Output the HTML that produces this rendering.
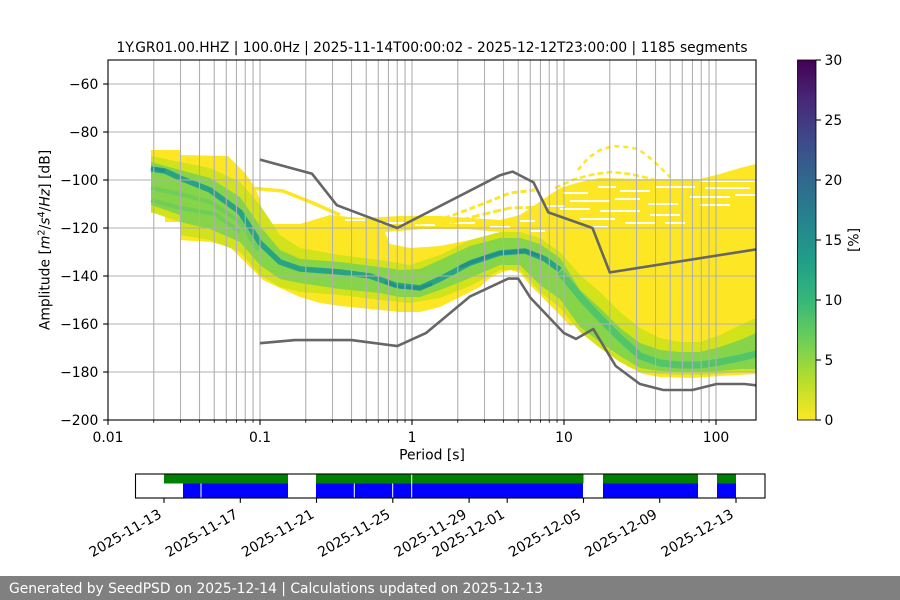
<!DOCTYPE html>
<html>
<head>
<meta charset="utf-8">
<style>
html,body{margin:0;padding:0;background:#fff;}
svg{display:block;}
text{font-family:"DejaVu Sans","Liberation Sans",sans-serif;font-size:13.9px;fill:#000;}
</style>
</head>
<body>
<svg width="900" height="600" viewBox="0 0 900 600" xmlns="http://www.w3.org/2000/svg">
<defs>
  <clipPath id="ax"><rect x="108" y="60" width="648" height="360"/></clipPath>
  <linearGradient id="vir" x1="0" y1="1" x2="0" y2="0">
    <stop offset="0" stop-color="#fde725"/>
    <stop offset="0.111" stop-color="#b5de2b"/>
    <stop offset="0.222" stop-color="#6ece58"/>
    <stop offset="0.333" stop-color="#35b779"/>
    <stop offset="0.444" stop-color="#1f9e89"/>
    <stop offset="0.556" stop-color="#26828e"/>
    <stop offset="0.667" stop-color="#31688e"/>
    <stop offset="0.778" stop-color="#3e4989"/>
    <stop offset="0.889" stop-color="#482878"/>
    <stop offset="1" stop-color="#440154"/>
  </linearGradient>
</defs>
<rect x="0" y="0" width="900" height="600" fill="#fff"/>

<!-- Title -->
<text x="432" y="52" text-anchor="middle" textLength="631" lengthAdjust="spacingAndGlyphs">1Y.GR01.00.HHZ | 100.0Hz | 2025-11-14T00:00:02 - 2025-12-12T23:00:00 | 1185 segments</text>

<!-- Heatmap -->
<g clip-path="url(#ax)">
  <polygon fill="#fde725" points="151,150 180,150 180,155 228,156 236,164 244,172 250,180 256,190 260,200 262,212 264,224 300,224 330,215 360,218 400,216 440,216 470,218 500,220 520,215 535,205 548,196 560,188 580,182 600,178 640,179 700,179 720,174 740,168 756,164 756,374 720,376 693,378 660,377 643,374 627,366 610,352 593,333 580,324 570,326 560,315 550,305 540,295 530,285 520,273 510,270 500,273 490,278 480,287 460,297 440,307 420,312 400,312 380,310 360,308 340,306 320,303 300,297 280,288 263,280 250,267 240,257 230,247 210,242 180,240 180,222 165,222 165,213 151,213"/>
  <!-- holes -->
  <polygon fill="#fff" points="385,232 425,229 465,229 500,232 498,236 470,240 440,246 410,248 390,244"/>
  <g fill="#fff">
    <rect x="345" y="219" width="20" height="2"/>
    <rect x="380" y="222" width="25" height="2"/>
    <rect x="415" y="224" width="20" height="2"/>
    <rect x="450" y="222" width="25" height="2"/>
    <rect x="490" y="226" width="20" height="2"/>
    <rect x="520" y="220" width="15" height="2"/>
    <rect x="530" y="230" width="15" height="2"/>
    <rect x="563" y="192" width="25" height="2"/>
    <rect x="598" y="186" width="18" height="2"/>
    <rect x="620" y="190" width="30" height="2"/>
    <rect x="655" y="186" width="40" height="2"/>
    <rect x="700" y="180" width="55" height="2"/>
    <rect x="705" y="187" width="45" height="2"/>
    <rect x="570" y="200" width="40" height="2"/>
    <rect x="615" y="198" width="25" height="2"/>
    <rect x="648" y="203" width="30" height="2"/>
    <rect x="690" y="196" width="40" height="2"/>
    <rect x="560" y="208" width="30" height="2"/>
    <rect x="600" y="210" width="40" height="2"/>
    <rect x="650" y="214" width="30" height="2"/>
    <rect x="580" y="218" width="35" height="2"/>
    <rect x="625" y="222" width="30" height="2"/>
    <rect x="665" y="222" width="20" height="2"/>
    <rect x="545" y="205" width="20" height="2"/>
    <rect x="590" y="226" width="18" height="2"/>
    <rect x="700" y="204" width="30" height="2"/>
    <rect x="735" y="194" width="21" height="2"/>
  </g>
  <!-- stripes -->
  <g fill="none" stroke="#fde725">
    <polyline stroke-width="3.5" points="250,188 283,191 313,203 340,215"/>
    <polyline stroke-width="3" stroke-dasharray="6 3" points="400,226 440,220 480,205 510,193 535,190"/>
    <polyline stroke-width="3" stroke-dasharray="8 3" points="440,226 480,215 510,208 545,207"/>
    <polyline stroke-width="2.5" stroke-dasharray="5 4" points="578,170 588,158 600,150 613,146 626,147 638,149 650,158 660,167 670,177"/>
    <polyline stroke-width="2.5" stroke-dasharray="6 3" points="555,188 575,179 595,174 612,172 630,174 648,178 668,184"/>
  </g>
  <!-- light band -->
  <polygon fill="#d2e21b" points="151,156 180,162 210,168 240,182 260,205 280,235 300,248 340,255 380,260 410,265 440,255 470,240 500,232 520,232 540,238 560,252 580,275 600,292 620,312 640,328 660,338 680,342 700,342 720,335 740,325 756,318 756,372 740,372 720,374 700,375 680,375 660,374 640,372 620,362 600,348 580,332 560,308 540,292 520,270 500,270 470,286 440,298 410,303 380,300 340,295 300,292 280,287 260,275 240,252 210,240 180,235 180,222 151,212"/>
  <!-- green band -->
  <polygon fill="#86d449" points="151,162 180,170 210,178 240,197 260,226 280,250 300,259 340,262 380,267 400,270 420,269 440,260 470,246 500,238 520,238 540,244 560,258 580,290 600,308 620,328 640,343 660,350 680,352 700,352 720,347 740,340 756,333 756,369 740,369 720,371 700,372 680,372 660,371 640,368 620,356 600,342 580,327 560,299 540,285 520,265 500,265 470,278 440,290 420,297 400,297 380,293 340,289 300,283 280,279 260,265 240,242 210,229 180,222 180,215 151,205"/>
  <!-- secondary streaks left -->
  <g fill="none" stroke="#6ece58" stroke-width="4">
    <polyline points="151,188 180,194 210,202 240,222 258,250"/>
    <polyline points="151,200 180,208 215,214 240,232"/>
  </g>
  <!-- cores -->
  <polyline fill="none" stroke="#29a386" stroke-width="5.5" stroke-linejoin="round" points="151,169 165,171 180,178 210,190 240,212 260,243 280,262 300,269 340,272 370,276 395,285 420,288 440,279 470,263 500,253 525,251 545,259 560,270"/>
  <g fill="none" stroke="#21908d" stroke-width="3.5" stroke-linejoin="round">
    <polyline points="151,168 165,171"/>
    <polyline points="385,282 400,287 420,288 432,284"/>
    <polyline points="460,267 480,259 500,253 525,251 540,256"/>
  </g>
  <polyline fill="none" stroke="#52c569" stroke-width="7" stroke-linejoin="round" points="560,272 583,300 600,318 620,338 640,356 660,363 680,365 700,365 720,362 740,358 756,354"/>

  <!-- grid -->
  <g stroke="#b0b0b0" stroke-width="1.1">
    <line x1="153.76" y1="60" x2="153.76" y2="420"/>
    <line x1="180.52" y1="60" x2="180.52" y2="420"/>
    <line x1="199.51" y1="60" x2="199.51" y2="420"/>
    <line x1="214.24" y1="60" x2="214.24" y2="420"/>
    <line x1="226.28" y1="60" x2="226.28" y2="420"/>
    <line x1="236.46" y1="60" x2="236.46" y2="420"/>
    <line x1="245.27" y1="60" x2="245.27" y2="420"/>
    <line x1="253.04" y1="60" x2="253.04" y2="420"/>
    <line x1="260" y1="60" x2="260" y2="420"/>
    <line x1="305.76" y1="60" x2="305.76" y2="420"/>
    <line x1="332.52" y1="60" x2="332.52" y2="420"/>
    <line x1="351.51" y1="60" x2="351.51" y2="420"/>
    <line x1="366.24" y1="60" x2="366.24" y2="420"/>
    <line x1="378.28" y1="60" x2="378.28" y2="420"/>
    <line x1="388.46" y1="60" x2="388.46" y2="420"/>
    <line x1="397.27" y1="60" x2="397.27" y2="420"/>
    <line x1="405.04" y1="60" x2="405.04" y2="420"/>
    <line x1="412" y1="60" x2="412" y2="420"/>
    <line x1="457.76" y1="60" x2="457.76" y2="420"/>
    <line x1="484.52" y1="60" x2="484.52" y2="420"/>
    <line x1="503.51" y1="60" x2="503.51" y2="420"/>
    <line x1="518.24" y1="60" x2="518.24" y2="420"/>
    <line x1="530.28" y1="60" x2="530.28" y2="420"/>
    <line x1="540.46" y1="60" x2="540.46" y2="420"/>
    <line x1="549.27" y1="60" x2="549.27" y2="420"/>
    <line x1="557.04" y1="60" x2="557.04" y2="420"/>
    <line x1="564" y1="60" x2="564" y2="420"/>
    <line x1="609.76" y1="60" x2="609.76" y2="420"/>
    <line x1="636.52" y1="60" x2="636.52" y2="420"/>
    <line x1="655.51" y1="60" x2="655.51" y2="420"/>
    <line x1="670.24" y1="60" x2="670.24" y2="420"/>
    <line x1="682.28" y1="60" x2="682.28" y2="420"/>
    <line x1="692.46" y1="60" x2="692.46" y2="420"/>
    <line x1="701.27" y1="60" x2="701.27" y2="420"/>
    <line x1="709.04" y1="60" x2="709.04" y2="420"/>
    <line x1="716" y1="60" x2="716" y2="420"/>
    <line x1="108" y1="84" x2="756" y2="84"/>
    <line x1="108" y1="132" x2="756" y2="132"/>
    <line x1="108" y1="180" x2="756" y2="180"/>
    <line x1="108" y1="228" x2="756" y2="228"/>
    <line x1="108" y1="276" x2="756" y2="276"/>
    <line x1="108" y1="324" x2="756" y2="324"/>
    <line x1="108" y1="372" x2="756" y2="372"/>
  </g>

  <!-- noise models -->
  <g fill="none" stroke="#666666" stroke-width="2.6" stroke-linejoin="round">
    <polyline points="260,159.6 312.1,173.8 336.8,205.2 397.3,228 500.1,175.2 512.7,171.6 533.5,182.4 548.4,212.4 592.5,228 609.8,272.4 756,249.4"/>
    <polyline points="260,343.2 295,340.1 351.5,340.1 397.3,346.1 426.2,332.9 469.8,296.6 508.3,278.6 518.2,278.6 530.3,297.6 564,333.1 576.1,338.9 593.3,329 615.7,366 639.9,384 663.3,390 692.4,390 716.6,384 744.5,384 756,385.3"/>
  </g>
</g>

<!-- axes frame -->
<rect x="108" y="60" width="648" height="360" fill="none" stroke="#000" stroke-width="1.1"/>

<!-- x ticks -->
<g stroke="#000" stroke-width="1.1">
  <line x1="108" y1="420" x2="108" y2="424.9"/>
  <line x1="260" y1="420" x2="260" y2="424.9"/>
  <line x1="412" y1="420" x2="412" y2="424.9"/>
  <line x1="564" y1="420" x2="564" y2="424.9"/>
  <line x1="716" y1="420" x2="716" y2="424.9"/>
</g>
<g stroke="#000" stroke-width="0.8">
  <line x1="153.76" y1="420" x2="153.76" y2="422.8"/>
  <line x1="180.52" y1="420" x2="180.52" y2="422.8"/>
  <line x1="199.51" y1="420" x2="199.51" y2="422.8"/>
  <line x1="214.24" y1="420" x2="214.24" y2="422.8"/>
  <line x1="226.28" y1="420" x2="226.28" y2="422.8"/>
  <line x1="236.46" y1="420" x2="236.46" y2="422.8"/>
  <line x1="245.27" y1="420" x2="245.27" y2="422.8"/>
  <line x1="253.04" y1="420" x2="253.04" y2="422.8"/>
  <line x1="305.76" y1="420" x2="305.76" y2="422.8"/>
  <line x1="332.52" y1="420" x2="332.52" y2="422.8"/>
  <line x1="351.51" y1="420" x2="351.51" y2="422.8"/>
  <line x1="366.24" y1="420" x2="366.24" y2="422.8"/>
  <line x1="378.28" y1="420" x2="378.28" y2="422.8"/>
  <line x1="388.46" y1="420" x2="388.46" y2="422.8"/>
  <line x1="397.27" y1="420" x2="397.27" y2="422.8"/>
  <line x1="405.04" y1="420" x2="405.04" y2="422.8"/>
  <line x1="457.76" y1="420" x2="457.76" y2="422.8"/>
  <line x1="484.52" y1="420" x2="484.52" y2="422.8"/>
  <line x1="503.51" y1="420" x2="503.51" y2="422.8"/>
  <line x1="518.24" y1="420" x2="518.24" y2="422.8"/>
  <line x1="530.28" y1="420" x2="530.28" y2="422.8"/>
  <line x1="540.46" y1="420" x2="540.46" y2="422.8"/>
  <line x1="549.27" y1="420" x2="549.27" y2="422.8"/>
  <line x1="557.04" y1="420" x2="557.04" y2="422.8"/>
  <line x1="609.76" y1="420" x2="609.76" y2="422.8"/>
  <line x1="636.52" y1="420" x2="636.52" y2="422.8"/>
  <line x1="655.51" y1="420" x2="655.51" y2="422.8"/>
  <line x1="670.24" y1="420" x2="670.24" y2="422.8"/>
  <line x1="682.28" y1="420" x2="682.28" y2="422.8"/>
  <line x1="692.46" y1="420" x2="692.46" y2="422.8"/>
  <line x1="701.27" y1="420" x2="701.27" y2="422.8"/>
  <line x1="709.04" y1="420" x2="709.04" y2="422.8"/>
</g>
<g text-anchor="middle">
  <text x="108" y="442">0.01</text>
  <text x="260" y="442">0.1</text>
  <text x="412" y="442">1</text>
  <text x="564" y="442">10</text>
  <text x="716" y="442">100</text>
  <text x="432" y="459.5">Period [s]</text>
</g>

<!-- y ticks -->
<g stroke="#000" stroke-width="1.1">
  <line x1="103.1" y1="84" x2="108" y2="84"/>
  <line x1="103.1" y1="132" x2="108" y2="132"/>
  <line x1="103.1" y1="180" x2="108" y2="180"/>
  <line x1="103.1" y1="228" x2="108" y2="228"/>
  <line x1="103.1" y1="276" x2="108" y2="276"/>
  <line x1="103.1" y1="324" x2="108" y2="324"/>
  <line x1="103.1" y1="372" x2="108" y2="372"/>
  <line x1="103.1" y1="420" x2="108" y2="420"/>
</g>
<g text-anchor="end">
  <text x="98.3" y="89">−60</text>
  <text x="98.3" y="137">−80</text>
  <text x="98.3" y="185">−100</text>
  <text x="98.3" y="233">−120</text>
  <text x="98.3" y="281">−140</text>
  <text x="98.3" y="329">−160</text>
  <text x="98.3" y="377">−180</text>
  <text x="98.3" y="425">−200</text>
</g>
<text transform="translate(49.5,240) rotate(-90)" text-anchor="middle">Amplitude [<tspan font-style="italic">m</tspan><tspan font-size="9.7" dy="-5">2</tspan><tspan dy="5">/</tspan><tspan font-style="italic">s</tspan><tspan font-size="9.7" dy="-5">4</tspan><tspan dy="5">/</tspan><tspan font-style="italic">Hz</tspan>] [dB]</text>

<!-- colorbar -->
<rect x="797.5" y="60" width="18.5" height="360" fill="url(#vir)" stroke="#000" stroke-width="0.8"/>
<g stroke="#000" stroke-width="1.1">
  <line x1="816" y1="60" x2="820.9" y2="60"/>
  <line x1="816" y1="120" x2="820.9" y2="120"/>
  <line x1="816" y1="180" x2="820.9" y2="180"/>
  <line x1="816" y1="240" x2="820.9" y2="240"/>
  <line x1="816" y1="300" x2="820.9" y2="300"/>
  <line x1="816" y1="360" x2="820.9" y2="360"/>
  <line x1="816" y1="420" x2="820.9" y2="420"/>
</g>
<g>
  <text x="824.5" y="65">30</text>
  <text x="824.5" y="125">25</text>
  <text x="824.5" y="185">20</text>
  <text x="824.5" y="245">15</text>
  <text x="824.5" y="305">10</text>
  <text x="824.5" y="365">5</text>
  <text x="824.5" y="425">0</text>
</g>
<text transform="translate(858.5,240) rotate(-90)" text-anchor="middle">[%]</text>

<!-- timeline -->
<g>
  <rect x="164" y="474.5" width="124" height="9" fill="#008000"/>
  <rect x="316" y="474.5" width="267.5" height="9" fill="#008000"/>
  <rect x="603" y="474.5" width="95" height="9" fill="#008000"/>
  <rect x="717" y="474.5" width="19" height="9" fill="#008000"/>
  <rect x="183" y="483.5" width="105" height="14.5" fill="#0000ff"/>
  <rect x="316" y="483.5" width="267" height="14.5" fill="#0000ff"/>
  <rect x="603" y="483.5" width="95" height="14.5" fill="#0000ff"/>
  <rect x="717" y="483.5" width="19" height="14.5" fill="#0000ff"/>
  <rect x="200.5" y="483.5" width="1" height="14.5" fill="#fff"/>
  <rect x="353.8" y="483.5" width="1" height="14.5" fill="#fff"/>
  <rect x="392.2" y="483.5" width="1" height="14.5" fill="#fff"/>
  <rect x="411.2" y="474.5" width="1" height="23.5" fill="#fff"/>
  <rect x="135.5" y="474" width="629.5" height="24" fill="none" stroke="#000" stroke-width="1.1"/>
</g>
<g stroke="#000" stroke-width="1.1">
  <line x1="164" y1="498" x2="164" y2="502.9"/>
  <line x1="240.3" y1="498" x2="240.3" y2="502.9"/>
  <line x1="316.5" y1="498" x2="316.5" y2="502.9"/>
  <line x1="392.8" y1="498" x2="392.8" y2="502.9"/>
  <line x1="469.1" y1="498" x2="469.1" y2="502.9"/>
  <line x1="507.2" y1="498" x2="507.2" y2="502.9"/>
  <line x1="583.5" y1="498" x2="583.5" y2="502.9"/>
  <line x1="659.7" y1="498" x2="659.7" y2="502.9"/>
  <line x1="736" y1="498" x2="736" y2="502.9"/>
</g>
<g text-anchor="end">
  <text transform="translate(162.5,517) rotate(-30)">2025-11-13</text>
  <text transform="translate(238.8,517) rotate(-30)">2025-11-17</text>
  <text transform="translate(315,517) rotate(-30)">2025-11-21</text>
  <text transform="translate(391.3,517) rotate(-30)">2025-11-25</text>
  <text transform="translate(467.6,517) rotate(-30)">2025-11-29</text>
  <text transform="translate(505.7,517) rotate(-30)">2025-12-01</text>
  <text transform="translate(582,517) rotate(-30)">2025-12-05</text>
  <text transform="translate(658.2,517) rotate(-30)">2025-12-09</text>
  <text transform="translate(734.5,517) rotate(-30)">2025-12-13</text>
</g>

<!-- footer -->
<rect x="0" y="576" width="900" height="24" fill="#808080"/>
<text x="9" y="593" fill="#fff" style="fill:#fff" textLength="534" lengthAdjust="spacingAndGlyphs">Generated by SeedPSD on 2025-12-14 | Calculations updated on 2025-12-13</text>
</svg>
</body>
</html>
